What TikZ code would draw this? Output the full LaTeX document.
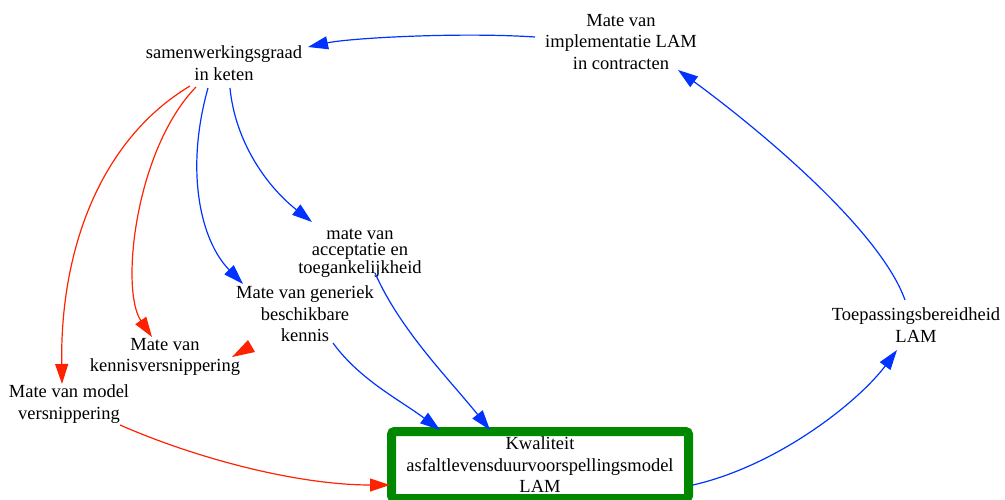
\documentclass[tikz,border=0pt]{standalone}
\usepackage{fontspec}
\setmainfont{Liberation Serif}
\usetikzlibrary{arrows.meta,calc}
\definecolor{linkblue}{RGB}{0,51,255}
\definecolor{linkred}{RGB}{255,34,0}
\definecolor{boxgreen}{RGB}{0,136,0}
\begin{document}
\begin{tikzpicture}[x=1pt,y=-1pt,
  lbl/.style={align=center,inner sep=0pt,font=\fontsize{18.5}{21.5}\selectfont},
  tight/.style={lbl,font=\fontsize{18.5}{16.5}\selectfont},
  headtip/.style={-{Triangle[length=20pt,width=13pt]}},
  pluslink/.style={draw=linkblue,line width=1.2pt,headtip,linkblue},
  minuslink/.style={draw=linkred,line width=1.2pt,headtip,linkred}]
\useasboundingbox (0,0) rectangle (1005,500);

% variables
\node[lbl]   (samen)  at (224,63)  {samenwerkingsgraad\\in keten};
\node[lbl]   (impl)   at (621,42)  {Mate van\\implementatie LAM\\in contracten};
\node[tight] (accept) at (360,253) {mate van\\acceptatie en\\toegankelijkheid};
\node[lbl]   (gener)  at (305,314) {Mate van generiek\\beschikbare\\kennis};
\node[lbl]   (kennis) at (165,357) {Mate van\\kennisversnippering};
\node[lbl]   (model)  at (69,404)  {Mate van model\\versnippering};
\node[lbl]   (toep)   at (916,325) {Toepassingsbereidheid\\LAM};
\node[lbl,draw=boxgreen,line width=9pt,rounded corners=3pt,
      minimum width=297pt,minimum height=67pt] (kwal) at (540,465)
      {Kwaliteit\\asfaltlevensduurvoorspellingsmodel\\LAM};

% positive links
\draw[pluslink] ($(impl)+(-86,-5)$) .. controls (460,32) and (350,38) .. ($(samen)+(84,-16)$);
\draw[pluslink] ($(toep)+(-11,-25)$) .. controls (880,230) and (760,130) .. ($(impl)+(57,28)$);
\draw[pluslink] ($(kwal)+(153,20)$) .. controls (780,465) and (860,400) .. ($(toep)+(-19,25)$);
\draw[pluslink] ($(samen)+(6,25)$) .. controls (235,140) and (265,185) .. ($(accept)+(-48,-31)$);
\draw[pluslink] ($(samen)+(-16,25)$) .. controls (185,170) and (200,240) .. ($(gener)+(-62,-30)$);
\draw[pluslink] ($(accept)+(15,20)$) .. controls (400,330) and (450,380) .. ($(kwal)+(-50,-35)$);
\draw[pluslink] ($(gener)+(28,29)$) .. controls (360,380) and (400,400) .. ($(kwal)+(-100,-35)$);

% negative links
\draw[minuslink] ($(samen)+(-28,24)$) .. controls (135,150) and (120,290) .. ($(kennis)+(-13,-20)$);
\draw[minuslink] ($(samen)+(-34,23)$) .. controls (100,140) and (60,250) .. ($(model)+(-7,-20)$);
\draw[minuslink] ($(model)+(51,21)$) .. controls (200,460) and (300,485) .. ($(kwal)+(-150,20)$);

% loose arrowhead beside the knowledge node
\fill[linkred] ($(kennis)+(67,0)$) -- ($(kennis)+(83,-17)$) -- ($(kennis)+(90,-5)$) -- cycle;
\end{tikzpicture}
\end{document}
